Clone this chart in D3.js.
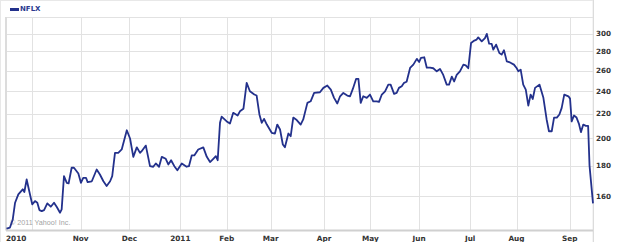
<!DOCTYPE html>
<html>
<head>
<meta charset="utf-8">
<script src="https://cdn.jsdelivr.net/npm/d3@7"></script>
<style>
  html, body { margin: 0; padding: 0; background: #fff; }
  svg { display: block; }
</style>
</head>
<body>
<svg id="chart" width="620" height="242"></svg>
<script>
// trading sessions counted from the first point (mid Sep 2010)
const sessions = [0, 1.5, 2.7, 3.7, 5.1, 7.0, 7.7, 8.7, 9.8, 11.1, 12.3, 13.3, 14.2, 15.2, 16.2, 17.6,
  19.1, 20.5, 21.7, 23.1, 23.8, 24.8, 26.0, 26.8, 28.1, 29.1, 31.0, 32.1, 33.1, 34.3, 35.0, 36.8,
  38.9, 40.3, 41.8, 43.2, 44.7, 45.6, 46.8, 48.2, 49.7, 51.9, 53.3, 54.7, 56.2, 57.6, 58.3, 60.1,
  61.9, 63.3, 64.4, 65.8, 67.0, 68.7, 69.8, 71.0, 72.4, 73.7, 75.6, 77.7, 78.7, 79.9, 81.0, 82.7,
  84.9, 86.4, 87.8, 89.2, 90.3, 91.1, 92.1, 92.8, 95.0, 96.4, 97.8, 99.7, 100.7, 102.2, 103.6, 105.0,
  106.9, 107.9, 109.1, 110.1, 111.1, 112.3, 114.4, 115.8, 116.8, 118.0, 119.2, 120.1, 121.6, 122.6,
  123.7, 125.2, 126.9, 128.0, 129.8, 131.2, 132.7, 135.2, 136.7, 138.4, 139.9, 141.3, 142.7, 143.9,
  145.3, 147.0, 148.2, 149.4, 150.8, 151.8, 152.8, 153.9, 155.4, 156.8, 158.2, 159.7, 160.7, 161.9,
  163.3, 164.7, 165.7, 167.2, 168.3, 169.3, 170.5, 171.5, 172.6, 174.1, 175.5, 177.0, 178.0, 178.8,
  180.2, 181.3, 182.7, 184.1, 185.6, 187.0, 188.4, 189.9, 190.9, 192.1, 193.1, 194.2, 195.6, 197.1,
  198.1, 199.2, 200.4, 201.8, 202.8, 203.5, 205.0, 206.4, 207.2, 208.2, 209.3, 210.0, 211.2, 212.6,
  213.6, 214.6, 215.8, 217.2, 218.9, 220.1, 220.8, 221.8, 222.9, 224.0, 225.1, 226.1, 227.0, 228.0,
  229.9, 231.6, 233.0, 234.0, 235.2, 236.2, 237.4, 238.5, 239.5, 240.6, 242.4, 243.1, 243.8, 244.8,
  245.9, 246.9, 247.8, 248.8, 249.9, 250.9, 251.5, 253.0];

const prices = [141.0, 141.6, 146.1, 155.9, 161.0, 164.2, 162.5, 170.6, 163.1, 154.9, 156.9, 155.9,
  151.5, 150.9, 151.5, 155.5, 153.5, 155.9, 153.3, 150.0, 151.9, 172.8, 168.4, 168.0, 178.5, 178.5,
  174.6, 168.4, 171.7, 171.7, 168.8, 169.4, 177.3, 173.9, 169.4, 166.3, 169.4, 172.8, 189.1, 189.1,
  191.6, 206.4, 199.9, 186.2, 193.2, 189.1, 190.3, 194.5, 179.6, 179.2, 181.5, 179.2, 186.2, 184.8,
  180.8, 183.8, 179.6, 176.8, 181.5, 179.2, 179.6, 187.2, 187.2, 191.6, 193.2, 186.2, 182.5, 184.8,
  186.7, 183.8, 212.4, 217.6, 213.6, 211.8, 220.8, 218.5, 222.1, 224.3, 248.0, 240.0, 237.0, 236.1,
  219.4, 212.4, 215.7, 211.0, 204.4, 203.8, 211.0, 207.0, 195.3, 193.2, 203.8, 201.7, 216.8, 214.7,
  211.0, 215.2, 229.5, 230.9, 238.5, 239.1, 243.2, 245.4, 241.6, 234.0, 228.9, 235.4, 238.5, 236.1,
  235.4, 242.2, 251.8, 251.8, 229.5, 235.4, 234.0, 237.0, 230.9, 230.9, 230.4, 237.0, 240.0, 246.3,
  246.3, 237.6, 238.5, 243.2, 244.8, 248.0, 249.0, 262.7, 266.1, 272.1, 268.9, 273.1, 273.8, 263.0,
  263.0, 262.4, 259.3, 261.7, 255.7, 246.3, 246.3, 254.0, 249.3, 255.7, 259.3, 266.1, 265.4, 262.4,
  289.4, 292.1, 293.2, 295.7, 291.2, 295.0, 299.7, 288.6, 288.3, 282.0, 287.5, 278.4, 276.6, 281.3,
  269.5, 268.4, 266.1, 262.4, 259.3, 261.0, 246.3, 241.6, 227.1, 237.0, 233.0, 243.2, 246.3, 234.0,
  215.2, 205.6, 205.6, 216.8, 216.8, 219.4, 225.1, 237.0, 235.4, 233.3, 213.6, 218.5, 216.8, 211.8,
  204.9, 211.0, 209.9, 209.9, 180.0, 155.5];

const monthLabels = ['2010', 'Nov', 'Dec', '2011', 'Feb', 'Mar', 'Apr', 'May', 'Jun', 'Jul', 'Aug', 'Sep'];
const monthStarts = [11, 32, 53, 75, 95, 114, 137, 157, 178, 200, 220, 243];
const priceTicks = [160, 180, 200, 220, 240, 260, 280, 300];

function drawChart() {
  const svg = d3.select('#chart');
  const plotLeft = 6, plotRight = 593, plotTop = 17, plotBottom = 230.5;

  const x = d3.scaleLinear().domain([0, 253]).range([6.5, plotRight]);
  const y = d3.scaleLog().domain([140, 320]).range([plotBottom, plotTop]);

  // outer frame
  svg.append('rect')
    .attr('x', 0.5).attr('y', 0.5)
    .attr('width', plotRight - 0.5).attr('height', 242)
    .attr('fill', 'none').attr('stroke', '#e8e8e8');

  // legend
  svg.append('rect')
    .attr('x', 10).attr('y', 8).attr('width', 9).attr('height', 3)
    .attr('fill', '#23318c');
  svg.append('text')
    .attr('x', 20).attr('y', 11)
    .attr('font-family', 'DejaVu Sans').attr('font-weight', 'bold').attr('font-size', 7)
    .attr('fill', '#2b3a8f')
    .text('NFLX');

  // grid
  svg.append('g')
    .attr('stroke', '#e2e2e2').attr('stroke-width', 1)
    .selectAll('line')
    .data(priceTicks.concat([320]))
    .join('line')
    .attr('x1', plotLeft).attr('x2', plotRight)
    .attr('y1', d => Math.round(y(d)) + 0.5).attr('y2', d => Math.round(y(d)) + 0.5);

  svg.append('g')
    .attr('stroke', '#e2e2e2').attr('stroke-width', 1)
    .selectAll('line')
    .data(monthStarts)
    .join('line')
    .attr('x1', d => Math.round(x(d)) + 0.5).attr('x2', d => Math.round(x(d)) + 0.5)
    .attr('y1', plotTop).attr('y2', plotBottom);

  // plot frame
  svg.append('line')
    .attr('x1', plotLeft).attr('x2', plotLeft).attr('y1', plotTop).attr('y2', plotBottom)
    .attr('stroke', '#dcdcdc').attr('stroke-width', 2);
  svg.append('line')
    .attr('x1', plotLeft).attr('x2', plotRight).attr('y1', plotBottom).attr('y2', plotBottom)
    .attr('stroke', '#d0d0d0').attr('stroke-width', 2);
  svg.append('line')
    .attr('x1', plotRight + 0.5).attr('x2', plotRight + 0.5).attr('y1', 0).attr('y2', 242)
    .attr('stroke', '#dcdcdc').attr('stroke-width', 1);

  // copyright
  svg.append('text')
    .attr('x', 10).attr('y', 225)
    .attr('font-family', 'Liberation Sans').attr('font-size', 7.2)
    .attr('fill', '#a4a4a4')
    .text('\u00a9 2011 Yahoo! Inc.');

  // price line
  const line = d3.line()
    .x((d, i) => x(sessions[i]))
    .y(d => y(d));

  svg.append('path')
    .datum(prices)
    .attr('d', line)
    .attr('fill', 'none')
    .attr('stroke', '#23318c')
    .attr('stroke-width', 1.8)
    .attr('stroke-linejoin', 'round');

  // y labels on the right
  svg.append('g')
    .selectAll('text')
    .data(priceTicks)
    .join('text')
    .attr('x', 596)
    .attr('y', d => y(d))
    .attr('dy', '0.35em')
    .attr('font-family', 'DejaVu Sans').attr('font-weight', 'bold').attr('font-size', 7.2)
    .attr('fill', '#333')
    .text(d => d);

  // month labels
  svg.append('g')
    .selectAll('text')
    .data(monthLabels)
    .join('text')
    .attr('x', (d, i) => i === 0 ? plotLeft : x(monthStarts[i]))
    .attr('y', 241)
    .attr('text-anchor', (d, i) => i === 0 ? 'start' : 'middle')
    .attr('font-family', 'DejaVu Sans').attr('font-weight', 'bold').attr('font-size', 7.3)
    .attr('fill', '#333')
    .text(d => d);
}

drawChart();
</script>
</body>
</html>
